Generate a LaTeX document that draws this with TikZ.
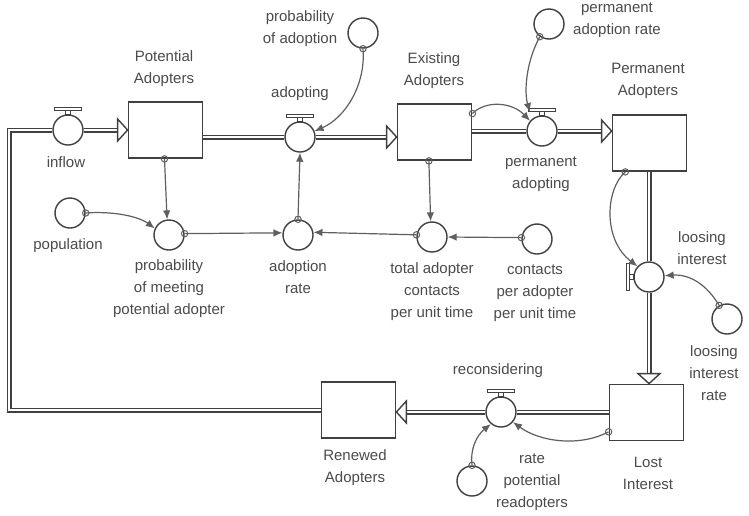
\documentclass[tikz,border=0pt]{standalone}
\usepackage{fontspec}
\setmainfont{Liberation Sans}
\usetikzlibrary{arrows.meta,backgrounds}
\definecolor{ink}{RGB}{64,64,64}
\definecolor{linkc}{RGB}{95,95,95}
\definecolor{txt}{RGB}{75,75,75}

\begin{document}
\begin{tikzpicture}[x=1pt,y=-1pt,
  stock/.style={draw=ink,line width=1.8pt,fill=white,minimum width=74pt,minimum height=56pt,inner sep=0pt},
  conv/.style={circle,draw=ink,line width=1.4pt,fill=white,minimum size=30pt,inner sep=0pt},
  lbl/.style={text=txt,align=center,font=\fontsize{15}{22}\selectfont,inner sep=0pt},
  pipe/.style={draw=ink,line width=1.3pt,double=white,double distance=2.4pt},
  link/.style={draw=linkc,line width=1.2pt,-{Latex[length=9pt,width=7.5pt]}},
  tap/.style={draw=linkc,line width=1pt},
  valve/.pic={
    \draw[draw=ink,line width=1.1pt,fill=white] (-2.5,-15) rectangle (2.5,-19.5);
    \draw[draw=ink,line width=1.1pt,fill=white] (-13.5,-19.5) rectangle (13.5,-22.5);
  },
  flowhead/.pic={
    \draw[draw=ink,line width=1.4pt,fill=white,line join=miter] (0,0) -- (-10,-11) -- (-10,11) -- cycle;
  }
]
\useasboundingbox (0,0) rectangle (749,515);

% stocks
\node[stock] (PA)  at (165.5,130) {};
\node[stock] (EA)  at (434.5,132) {};
\node[stock] (PmA) at (649.5,143) {};
\node[stock] (LI)  at (646.5,412.5) {};
\node[stock] (RA)  at (358.5,410) {};

% flow regulators
\node[conv] (inflow)     at (68,130) {};
\node[conv] (adopting)   at (300,137) {};
\node[conv] (permadopt)  at (542,131) {};
\node[conv] (losing)     at (649,277) {};
\node[conv] (reconsider) at (501,412) {};

% converters
\node[conv] (probadopt)   at (363,33) {};
\node[conv] (permrate)    at (549,24) {};
\node[conv] (population)  at (70,213) {};
\node[conv] (probmeet)    at (169,235) {};
\node[conv] (adoptrate)   at (298,235) {};
\node[conv] (totcontacts) at (432,237) {};
\node[conv] (contacts)    at (537,239) {};
\node[conv] (loserate)    at (727,319) {};
\node[conv] (ratepot)     at (472,481) {};

% labels
\node[lbl] (l-PA)  at (164,69)  {Potential\\Adopters};
\node[lbl] (l-EA)  at (434,71)  {Existing\\Adopters};
\node[lbl] (l-PmA) at (648,81)  {Permanent\\Adopters};
\node[lbl] (l-LI)  at (648,473) {Lost\\Interest};
\node[lbl] (l-RA)  at (355,468) {Renewed\\Adopters};
\node[lbl] (l-inflow)      at (66,162)    {inflow};
\node[lbl] (l-adopting)    at (300,94)    {adopting};
\node[lbl] (l-permadopt)   at (541,174.5) {permanent\\adopting};
\node[lbl] (l-losing)      at (702,248)   {loosing\\interest};
\node[lbl] (l-reconsider)  at (498,371)   {reconsidering};
\node[lbl] (l-probadopt)   at (300,29)    {probability\\of adoption};
\node[lbl] (l-permrate)    at (617,20.5)  {permanent\\adoption rate};
\node[lbl] (l-population)  at (68,246)    {population};
\node[lbl] (l-probmeet)    at (169,289)   {probability\\of meeting\\potential adopter};
\node[lbl] (l-adoptrate)   at (298,277)   {adoption\\rate};
\node[lbl] (l-totcontacts) at (432,292)   {total adopter\\contacts\\per unit time};
\node[lbl] (l-contacts)    at (535,293)   {contacts\\per adopter\\per unit time};
\node[lbl] (l-loserate)    at (714,373)   {loosing\\interest\\rate};
\node[lbl] (l-ratepot)     at (532,482)   {rate\\potential\\readopters};

% material flows (pipes)
\coordinate (loop)   at (9,130);
\coordinate (pa-out) at (PA.east |- adopting.west);
\coordinate (ea-in)  at (EA.west |- adopting.east);
\coordinate (ea-out) at (EA.east |- permadopt.west);
\coordinate (pma-in) at (PmA.west |- permadopt.east);
\coordinate (pma-out) at (losing.north |- PmA.south);
\coordinate (li-in)  at (losing.south |- LI.north);
\coordinate (li-out) at (LI.west |- reconsider.east);
\coordinate (ra-in)  at (RA.east |- reconsider.west);
\begin{scope}[on background layer]
  \fill[white] (0,0) rectangle (749,515);
  \draw[pipe] (RA.west) -| (loop) -- (inflow.west);
  \draw[pipe] (inflow.east) -- ([xshift=-10pt]PA.west);
  \draw[pipe] (pa-out) -- (adopting.west);
  \draw[pipe] (adopting.east) -- ([xshift=-10pt]ea-in);
  \draw[pipe] (ea-out) -- (permadopt.west);
  \draw[pipe] (permadopt.east) -- ([xshift=-10pt]pma-in);
  \draw[pipe] (pma-out) -- (losing.north);
  \draw[pipe] (losing.south) -- ([yshift=10pt]li-in);
  \draw[pipe] (li-out) -- (reconsider.east);
  \draw[pipe] (reconsider.west) -- ([xshift=10pt]ra-in);
\end{scope}

% flow arrowheads
\pic at (PA.west) {flowhead};
\pic at (ea-in) {flowhead};
\pic at (pma-in) {flowhead};
\pic[rotate=-90] at (li-in) {flowhead};
\pic[rotate=180] at (ra-in) {flowhead};

% valves
\pic at (inflow) {valve};
\pic at (adopting) {valve};
\pic at (permadopt) {valve};
\pic[rotate=90] at (losing) {valve};
\pic at (reconsider) {valve};

% information links
\coordinate (pa-valve) at ([xshift=-12pt,yshift=19pt]permadopt.center);
\draw[link] (probadopt.south) .. controls (366,85) and (345,118) .. (adopting.22);
\draw[tap] (probadopt.south) circle (3.2);
\draw[link] (permrate.234) .. controls (526,62) and (524,92) .. (pa-valve);
\draw[tap] (permrate.234) circle (3.2);
\draw[link] (EA.26) .. controls (486,100) and (512,102) .. (permadopt.140);
\draw[tap] (EA.26) circle (3.2);
\draw[link] (EA.259) -- (totcontacts.95);
\draw[tap] (EA.259) circle (3.2);
\draw[link] (PA.268) -- (probmeet.97);
\draw[tap] (PA.268) circle (3.2);
\draw[link] (population.east) .. controls (112,211) and (138,216) .. (probmeet.155);
\draw[tap] (population.east) circle (3.2);
\draw[link] (probmeet.5) -- (adoptrate.172);
\draw[tap] (probmeet.5) circle (3.2);
\draw[link] (totcontacts.172) -- (adoptrate.10);
\draw[tap] (totcontacts.172) circle (3.2);
\draw[link] (contacts.175) -- (totcontacts.east);
\draw[tap] (contacts.175) circle (3.2);
\draw[link] (adoptrate.north) -- (adopting.south);
\draw[tap] (adoptrate.north) circle (3.2);
\draw[link] (PmA.230) .. controls (605,190) and (603,240) .. (losing.137);
\draw[tap] (PmA.230) circle (3.2);
\draw[link] (loserate.120) .. controls (707,285) and (690,274) .. (losing.5);
\draw[tap] (loserate.120) circle (3.2);
\draw[link] (LI.207) .. controls (580,447) and (540,442) .. (reconsider.-40);
\draw[tap] (LI.207) circle (3.2);
\draw[link] (ratepot.north) .. controls (470,450) and (476,436) .. (reconsider.-130);
\draw[tap] (ratepot.north) circle (3.2);
\end{tikzpicture}
\end{document}
